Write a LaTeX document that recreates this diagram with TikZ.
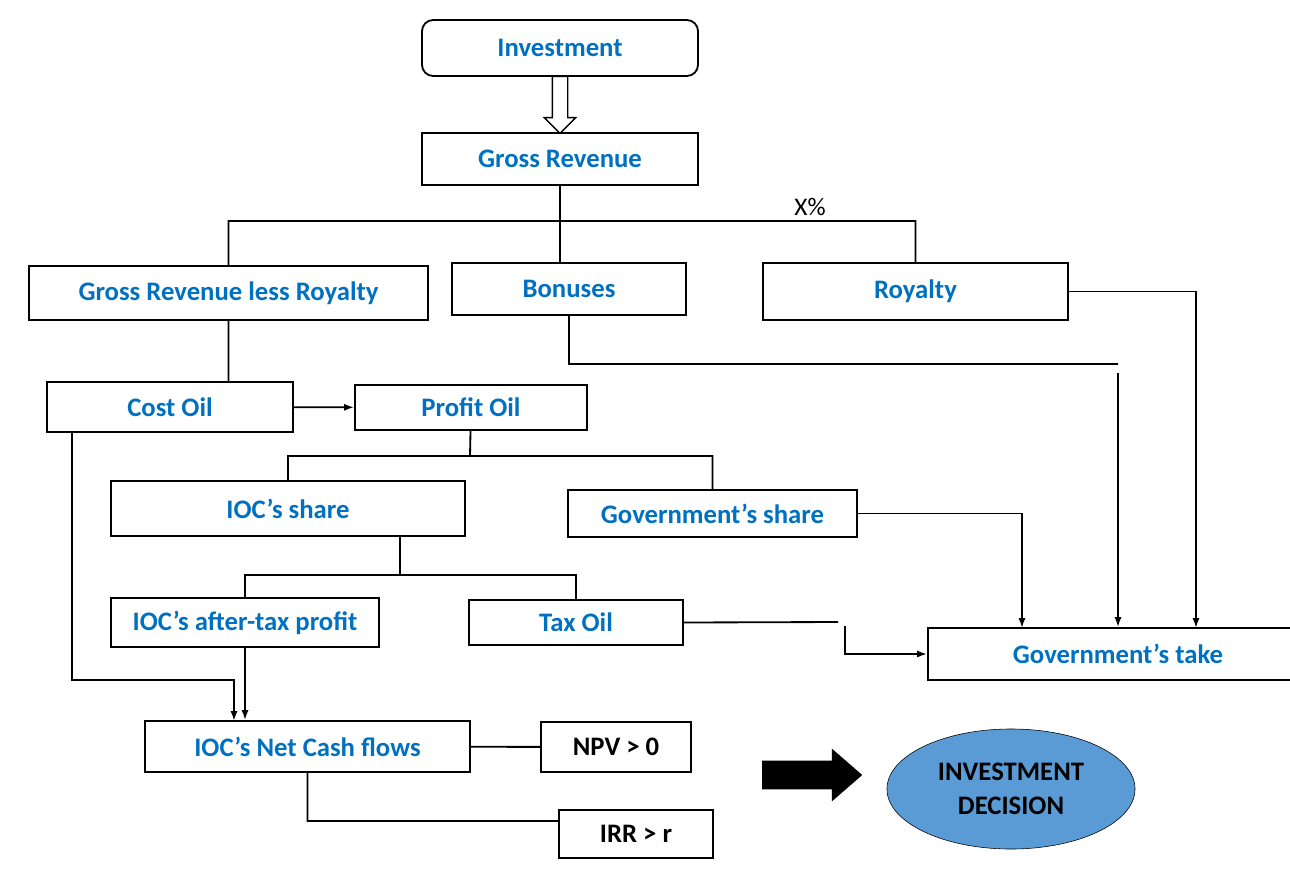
\documentclass[tikz,border=0pt]{standalone}
\usepackage{fontspec}
\setmainfont{Carlito}
\usetikzlibrary{arrows.meta,shapes.geometric,shapes.arrows}
\definecolor{iocblue}{HTML}{0070C0}
\definecolor{decblue}{HTML}{5B9BD5}

\begin{document}
\begin{tikzpicture}[x=0.025cm, y=-0.025cm, >={Latex[length=7pt,width=5pt]}]
    \tikzstyle{flow_box}       = [shape = rectangle, draw = black, line width = 1.3pt, inner sep = 0pt,
                                  text = iocblue, font = \fontsize{19}{22}\selectfont\bfseries]
    \tikzstyle{flow_box__top}  = [flow_box, rounded corners = 8pt]
    \tikzstyle{flow_test}      = [flow_box, text = black]
    \tikzstyle{flow_line}      = [line width = 1.3pt]
    \tikzstyle{flow_hollow}    = [single arrow, draw = black, line width = 1pt, fill = white, inner sep = 0.175cm,
                                  shape border rotate = 270, single arrow tip angle = 90]
    \tikzstyle{flow_solid}     = [single arrow, fill = black, inner sep = 0.35cm, single arrow tip angle = 82]
    \tikzstyle{flow_decision}  = [ellipse, draw = black, fill = decblue, align = center,
                                  font = \fontsize{19}{24}\selectfont\bfseries]

    \useasboundingbox (0, 0) rectangle (1290, 870);

    \node[flow_box__top, minimum width = 6.9cm,   minimum height = 1.4cm]   at (560,    48)   (inv)    {Investment};
    \node[flow_box,      minimum width = 6.9cm,   minimum height = 1.3cm]   at (560,   159)   (gross)  {Gross Revenue};

    \node[flow_box,      minimum width = 9.975cm, minimum height = 1.35cm]  at (228.5, 293)   (grlr)   {Gross Revenue less Royalty};
    \node[flow_box,      minimum width = 5.85cm,  minimum height = 1.3cm]   at (569,   289)   (bon)    {Bonuses};
    \node[flow_box,      minimum width = 7.625cm, minimum height = 1.425cm] at (915.5, 291.5) (roy)    {Royalty};
    \node                                                                   at (810,   207)   (xpct)   {\fontsize{18}{21}\selectfont X\%};

    \node[flow_box,      minimum width = 6.15cm,  minimum height = 1.25cm]  at (170,   407)   (cost)   {Cost Oil};
    \node[flow_box,      minimum width = 5.8cm,   minimum height = 1.125cm] at (471,   407.5) (profit) {Profit Oil};

    \node[flow_box,      minimum width = 8.85cm,  minimum height = 1.375cm] at (288,   508.5) (iocs)   {IOC’s share};
    \node[flow_box,      minimum width = 7.225cm, minimum height = 1.175cm] at (712.5, 513.5) (govs)   {Government’s share};

    \node[flow_box,      minimum width = 6.7cm,   minimum height = 1.225cm] at (245,   622.5) (after)  {IOC’s after-tax profit};
    \node[flow_box,      minimum width = 5.35cm,  minimum height = 1.125cm] at (576,   622.5) (tax)    {Tax Oil};
    \node[flow_box,      minimum width = 9.5cm,   minimum height = 1.3cm]   at (1118,  654)   (take)   {Government’s take};

    \node[flow_box,      minimum width = 8.125cm, minimum height = 1.275cm] at (307.5, 746.5) (ncf)    {IOC’s Net Cash flows};
    \node[flow_test,     minimum width = 3.75cm,  minimum height = 1.25cm]  at (616,   747)   (npv)    {NPV > 0};
    \node[flow_test,     minimum width = 3.85cm,  minimum height = 1.2cm]   at (636,   834)   (irr)    {IRR > r};

    \node[flow_decision, minimum width = 6.2cm,   minimum height = 3.0cm]   at (1011,  789)   (dec)    {INVESTMENT\\DECISION};

    \node[flow_hollow, minimum height = 1.425cm, single arrow head extend = 0.2cm]
                                                                            at (560,   101)   (inv_arrow) {};
    \node[flow_solid,  minimum height = 2.5cm,   single arrow head extend = 0.3cm]
                                                                            at (804,   775)   (dec_arrow) {};

    \coordinate (gr_bus)   at (560,  221);
    \coordinate (po_bus)   at (470,  456);
    \coordinate (is_bus)   at (400,  575);
    \coordinate (bon_bend) at (1118, 364);
    \coordinate (bon_gap)  at (1118, 373);
    \coordinate (tax_end)  at (838,  622);
    \coordinate (tax_gap)  at (845,  626);
    \coordinate (co_foot)  at (72,   432);
    \coordinate (co_bend)  at (234,  680);
    \coordinate (ncf_in)   at (234,  721);
    \coordinate (irr_in)   at (559,  821);
    \coordinate (take_1)   at (1022, 628);
    \coordinate (take_3)   at (1196, 628);

    \draw[flow_line]
      (gross) -- (gr_bus)
      (grlr.north) |- (gr_bus)
      (roy.north) |- (gr_bus)
      (gr_bus) -- (gr_bus |- bon.north)
      (grlr.south) -- (grlr.south |- cost.north)
      (profit) -- (po_bus)
      (iocs.north) |- (po_bus)
      (govs.north) |- (po_bus)
      (is_bus |- iocs.south) -- (is_bus)
      (after.north) |- (is_bus)
      (tax.north) |- (is_bus)
      (bon.south) |- (bon_bend)
      (tax.east) -- (tax_end)
      (ncf) -- (npv)
      (ncf.south) |- (irr_in)
    ;

    \draw[flow_line, ->] (cost) -- (profit);
    \draw[flow_line, ->] (roy.east) -| (take_3);
    \draw[flow_line, ->] (bon_gap) -- (take.north);
    \draw[flow_line, ->] (govs.east) -| (take_1);
    \draw[flow_line, ->] (tax_gap) |- (take.west);
    \draw[flow_line, ->] (co_foot) |- (co_bend) -- (ncf_in);
    \draw[flow_line, ->] (after.south) -- (after.south |- ncf.north);
  \end{tikzpicture}
\end{document}
